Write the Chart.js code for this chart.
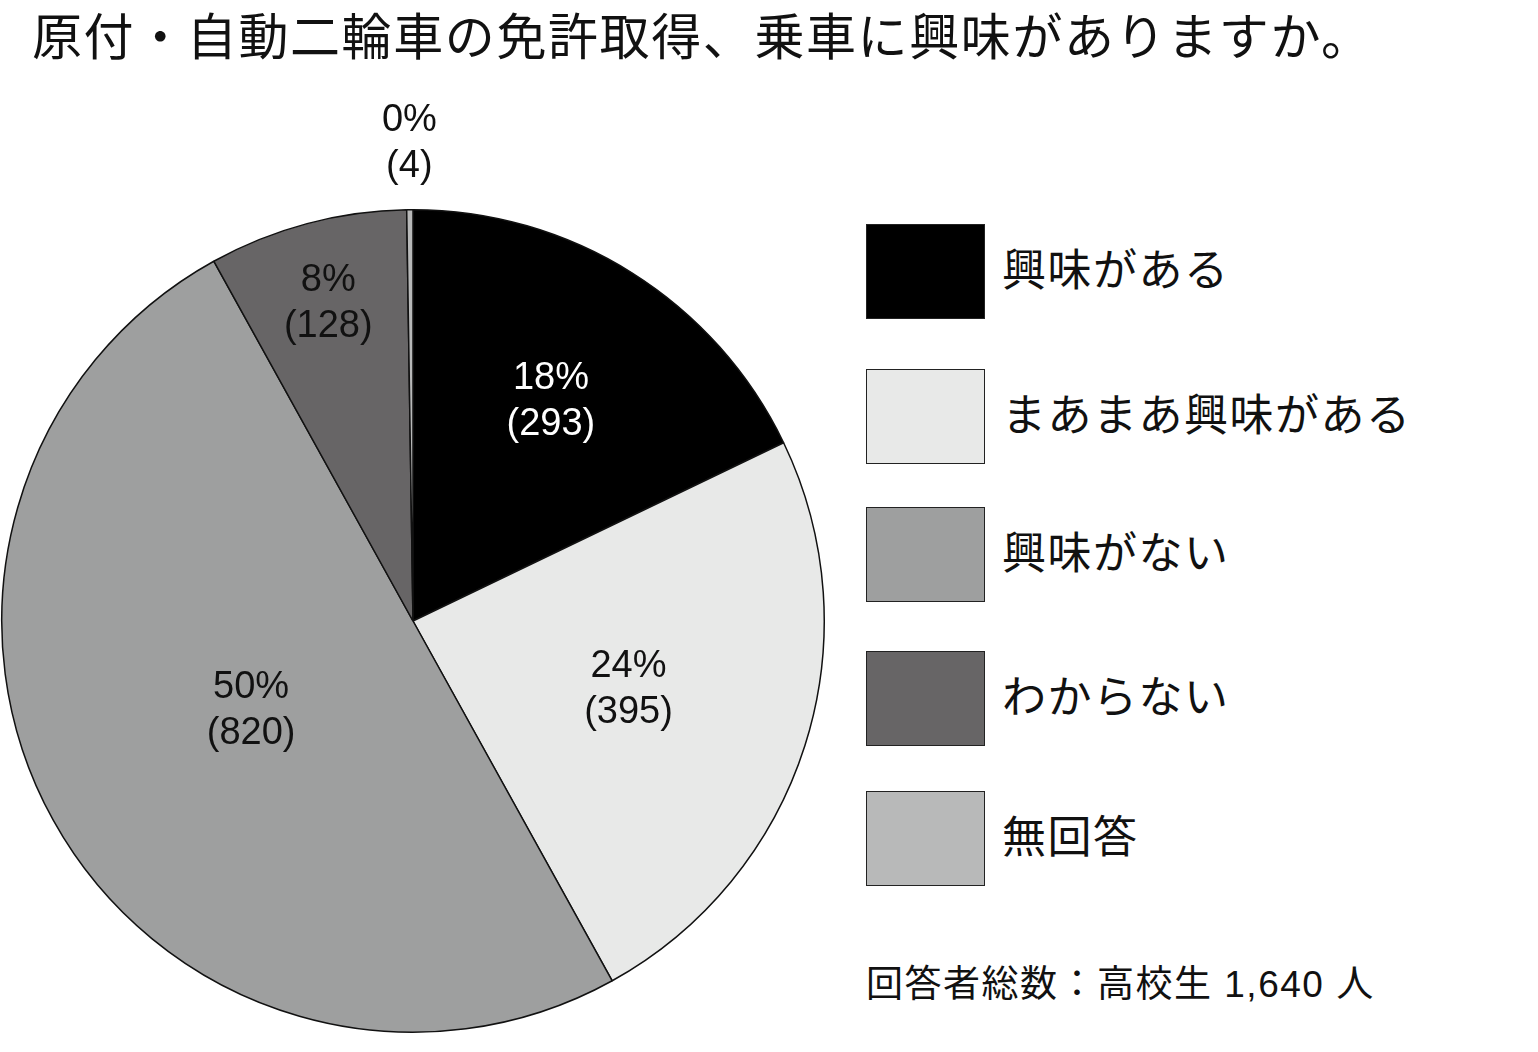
<!DOCTYPE html>
<html><head><meta charset="utf-8">
<script src="https://cdn.jsdelivr.net/npm/chart.js@4"></script>
<style>
body{margin:0;width:1538px;height:1052px;background:#fff;font-family:"Liberation Sans","Noto Sans CJK JP",sans-serif;overflow:hidden;position:relative}
#title{position:absolute;left:32px;top:0px;font-size:50px;letter-spacing:1.6px;line-height:76px;color:#111;white-space:nowrap}
#wrap{position:absolute;left:0;top:0;width:826px;height:1052px}
.lg{position:absolute;left:866px;width:119px;height:95px;border:1.5px solid #222;box-sizing:border-box}
.lt{position:absolute;left:1002px;font-size:44px;letter-spacing:1.5px;line-height:50px;color:#111;white-space:nowrap}
#note{position:absolute;left:866px;top:960px;font-size:37px;letter-spacing:1.5px;line-height:50px;color:#111;white-space:nowrap}
</style></head><body>
<div id="title">原付・自動二輪車の免許取得、乗車に興味がありますか。</div>
<div id="wrap"><canvas id="c"></canvas></div>
<div id="legend"></div>
<div id="note">回答者総数：高校生 1,640 人</div>
<script>
const categories = ["興味がある", "まあまあ興味がある", "興味がない", "わからない", "無回答"]
const counts = [293, 395, 820, 128, 4]
const percents = ["18%", "24%", "50%", "8%", "0%"]
const colors = ["#000000", "#e8e9e8", "#9e9f9f", "#676566", "#b8b9b9"]
const labelColors = ["#ffffff", "#111111", "#111111", "#111111", "#111111"]
const legendTops = [224, 369, 507, 651, 791]

let legend = document.getElementById("legend")
categories.forEach((name, i) => {
    legend.innerHTML += `<div class="lg" style="top:${legendTops[i]}px;background:${colors[i]}"></div>` +
        `<div class="lt" style="top:${legendTops[i] + 22}px">${name}</div>`
})

const labelRadius = [0.63, 0.55, 0.45, 0.8, 1.16]
const sliceLabels = {
    id: "sliceLabels",
    afterDatasetsDraw(chart) {
        const ctx = chart.ctx
        chart.getDatasetMeta(0).data.forEach((arc, i) => {
            const mid = (arc.startAngle + arc.endAngle) / 2
            const r = arc.outerRadius * labelRadius[i]
            const x = arc.x + Math.cos(mid) * r
            const y = arc.y + Math.sin(mid) * r
            ctx.save()
            ctx.fillStyle = labelColors[i]
            ctx.font = '38px "Liberation Sans", sans-serif'
            ctx.textAlign = "center"
            ctx.textBaseline = "middle"
            ctx.fillText(percents[i], x, y - 23)
            ctx.fillText(`(${counts[i]})`, x, y + 23)
            ctx.restore()
        })
    }
}

new Chart(document.getElementById("c"), {
    type: "pie",
    data: {
        labels: categories,
        datasets: [{
            data: counts,
            backgroundColor: colors,
            borderColor: "#111111",
            borderWidth: 1.5
        }]
    },
    options: {
        responsive: true,
        maintainAspectRatio: false,
        animation: false,
        layout: { padding: { top: 208, bottom: 18, left: 1, right: 1 } },
        plugins: { legend: { display: false }, tooltip: { enabled: false } }
    },
    plugins: [sliceLabels]
})
</script>
</body></html>
